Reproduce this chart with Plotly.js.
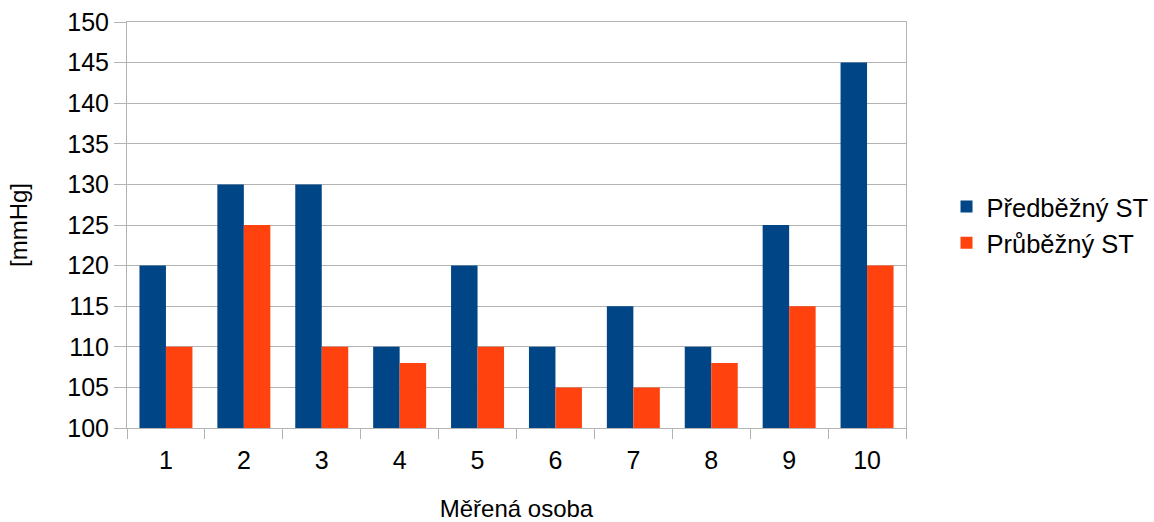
<!DOCTYPE html>
<html>
<head>
<meta charset="utf-8">
<script src="https://cdn.plot.ly/plotly-3.0.1.min.js"></script>
<style>
  html, body { margin: 0; padding: 0; background: #fff; }
  #chart { width: 1154px; height: 522px; }
</style>
</head>
<body>
<div id="chart"></div>
<script>
// Measured person index and blood pressure readings
const persons = ['1', '2', '3', '4', '5', '6', '7', '8', '9', '10'];
const predbezny = [120, 130, 130, 110, 120, 110, 115, 110, 125, 145];
const prubezny = [110, 125, 110, 108, 110, 105, 105, 108, 115, 120];
const yTicks = [100, 105, 110, 115, 120, 125, 130, 135, 140, 145, 150];

const font = 'Liberation Sans, Arial, sans-serif';

const traces = [
  {
    type: 'bar', name: 'Předběžný ST', x: persons, y: predbezny,
    marker: { color: '#004586' }, hoverinfo: 'x+y'
  },
  {
    type: 'bar', name: 'Průběžný ST', x: persons, y: prubezny,
    marker: { color: '#ff420e' }, hoverinfo: 'x+y'
  }
];

const layout = {
  width: 1154, height: 522,
  paper_bgcolor: '#fff', plot_bgcolor: '#fff',
  margin: { l: 127, r: 248, t: 22, b: 94, autoexpand: false },
  barmode: 'group', bargap: 0.32, bargroupgap: 0,
  font: { family: font, color: '#000', size: 24 },
  xaxis: {
    type: 'category',
    showline: true, linecolor: '#b3b3b3', linewidth: 1, mirror: true,
    ticks: 'outside', tickson: 'boundaries', ticklen: 10, tickcolor: '#b3b3b3',
    ticklabelstandoff: 10,
    showgrid: false, zeroline: false,
    tickfont: { size: 25, family: font },
    title: { text: 'Měřená osoba', font: { size: 24, family: font }, standoff: 38 }
  },
  yaxis: {
    range: [100, 150], tickvals: yTicks,
    showline: true, linecolor: '#b3b3b3', linewidth: 1, mirror: true,
    ticks: 'outside', ticklen: 12, tickcolor: '#b3b3b3',
    showgrid: true, gridcolor: '#b3b3b3', gridwidth: 1, zeroline: false,
    tickfont: { size: 25, family: font },
    title: { text: '[mmHg]', font: { size: 24, family: font }, standoff: 32 }
  },
  legend: {
    x: 1.052, xanchor: 'left', xref: 'paper', y: 0.5, yanchor: 'middle',
    font: { size: 25.5, family: font },
    bgcolor: 'rgba(0,0,0,0)', borderwidth: 0,
    itemwidth: 30, traceorder: 'normal'
  },
  showlegend: true
};

Plotly.newPlot('chart', traces, layout, { displayModeBar: false, staticPlot: true });
</script>
</body>
</html>
